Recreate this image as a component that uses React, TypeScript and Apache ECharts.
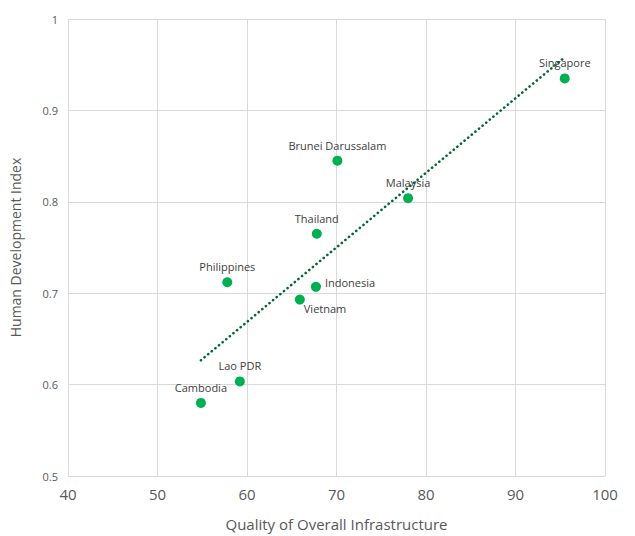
import React, { useEffect, useRef } from "react";
import * as echarts from "echarts";

const countries = ["Singapore", "Brunei Darussalam", "Malaysia", "Thailand", "Indonesia", "Vietnam", "Philippines", "Lao PDR", "Cambodia"];
const infrastructure = [95.5, 70.1, 78.0, 67.8, 67.7, 65.9, 57.8, 59.2, 54.85];
const hdi = [0.935, 0.845, 0.804, 0.765, 0.707, 0.693, 0.712, 0.6035, 0.58];

const xTicks = [40, 50, 60, 70, 80, 90, 100];
const yTicks = [0.5, 0.6, 0.7, 0.8, 0.9, 1];

const labelPlacement: Record<string, any> = {
  Indonesia: { position: "right", distance: 4, offset: [0, -4] },
  Vietnam: { position: "right", offset: [-6, 9] },
};

function regression(xs: number[], ys: number[]) {
  const n = xs.length;
  const mx = xs.reduce((a, b) => a + b, 0) / n;
  const my = ys.reduce((a, b) => a + b, 0) / n;
  let sxy = 0, sxx = 0;
  for (let i = 0; i < n; i++) {
    sxy += (xs[i] - mx) * (ys[i] - my);
    sxx += (xs[i] - mx) * (xs[i] - mx);
  }
  const slope = sxy / sxx;
  return { slope, intercept: my - slope * mx };
}

export default function App() {
  const ref = useRef<HTMLDivElement>(null);
  useEffect(() => {
    if (!ref.current) return;
    document.body.style.margin = "0";
    const chart = echarts.init(ref.current, null, { renderer: "svg" });
    const { slope, intercept } = regression(infrastructure, hdi);
    const xmin = Math.min(...infrastructure);
    const xmax = Math.max(...infrastructure);
    const trend = [
      [xmin, intercept + slope * xmin],
      [xmax, intercept + slope * xmax],
    ];
    const font = "'Open Sans', 'Noto Sans', sans-serif";
    chart.setOption({
      animation: false,
      textStyle: { fontFamily: font },
      grid: { left: 66, right: 30, top: 19, bottom: 55, containLabel: false },
      xAxis: {
        type: "value",
        min: xTicks[0],
        max: xTicks[xTicks.length - 1],
        interval: 10,
        name: "Quality of Overall Infrastructure",
        nameLocation: "middle",
        nameGap: 40,
        nameTextStyle: { fontSize: 15, color: "#595959", fontFamily: font },
        axisLine: { show: true, lineStyle: { color: "#d9d9d9", width: 1 } },
        axisTick: { show: false },
        axisLabel: { fontSize: 15, color: "#595959", margin: 10, fontFamily: font },
        splitLine: { show: true, lineStyle: { color: "#d9d9d9", width: 1 } },
      },
      yAxis: {
        type: "value",
        min: yTicks[0],
        max: yTicks[yTicks.length - 1],
        interval: 0.1,
        name: "Human Development Index",
        nameLocation: "middle",
        nameGap: 46,
        nameTextStyle: { fontSize: 14, color: "#595959", fontFamily: font },
        axisLine: { show: true, lineStyle: { color: "#d9d9d9", width: 1 } },
        axisTick: { show: false },
        axisLabel: { fontSize: 11, color: "#595959", margin: 10, fontFamily: font },
        splitLine: { show: true, lineStyle: { color: "#d9d9d9", width: 1 } },
      },
      series: [
        {
          type: "line",
          data: trend,
          symbol: "none",
          silent: true,
          lineStyle: { color: "#006837", width: 2.6, type: [0.1, 4.6], cap: "round" },
          z: 1,
        },
        {
          type: "scatter",
          symbolSize: 10,
          itemStyle: { color: "#00b050", opacity: 1 },
          z: 3,
          label: {
            show: true,
            position: "top",
            distance: 5,
            fontSize: 11,
            color: "#404040",
            fontFamily: font,
            formatter: (p: any) => p.name,
          },
          data: countries.map((c, i) => ({
            name: c,
            value: [infrastructure[i], hdi[i]],
            label: labelPlacement[c] || undefined,
          })),
        },
      ],
    });
    return () => chart.dispose();
  }, []);
  return <div ref={ref} style={{ width: 635, height: 536 }} />;
}
